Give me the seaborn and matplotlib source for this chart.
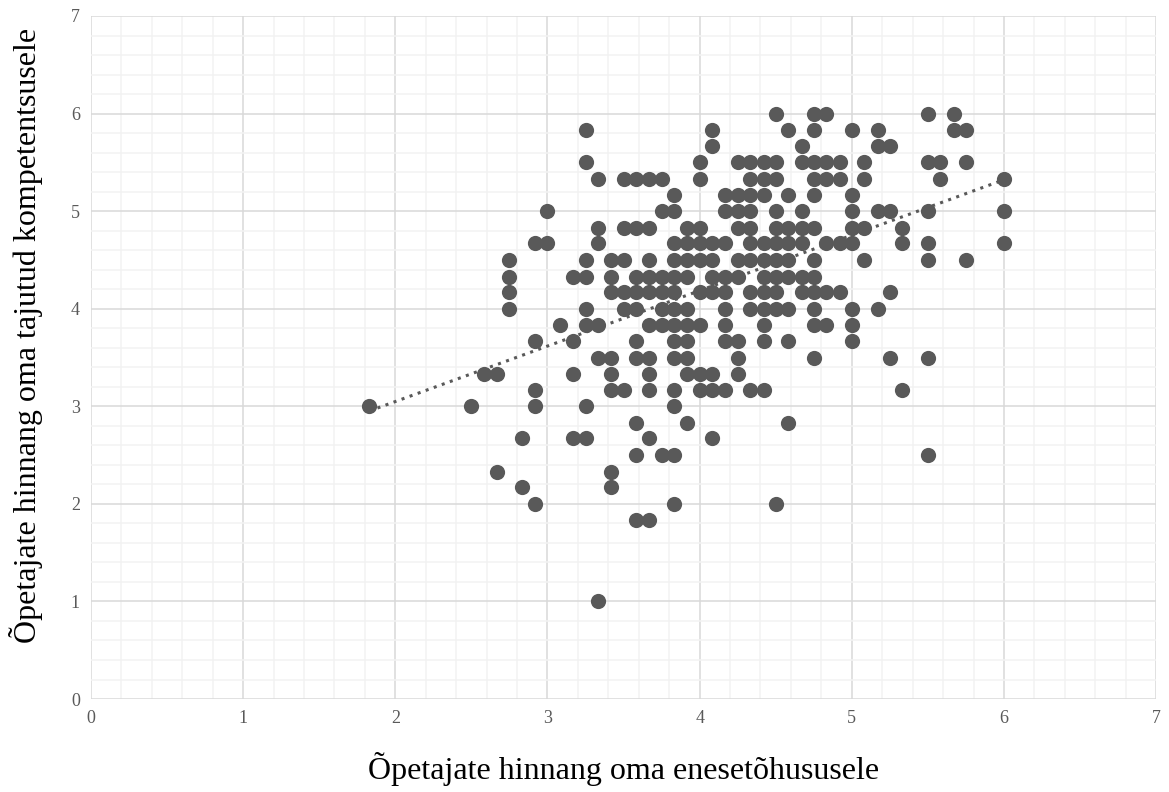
import numpy as np
import pandas as pd
import matplotlib.pyplot as plt
import seaborn as sns
from matplotlib.ticker import MultipleLocator

# competence score levels (y) and the efficacy scores (x) observed at each level
y_levels = [6.0, 5.83, 5.67, 5.5, 5.33, 5.17, 5.0, 4.83, 4.67, 4.5, 4.33, 4.17,
            4.0, 3.83, 3.67, 3.5, 3.33, 3.17, 3.0, 2.83, 2.67, 2.5, 2.33, 2.17,
            2.0, 1.83, 1.0]
x_by_level = [
    [4.5, 4.75, 4.83, 5.5, 5.67],
    [3.25, 4.08, 4.58, 4.75, 5.0, 5.17, 5.67, 5.75],
    [4.08, 4.67, 5.17, 5.25],
    [3.25, 4.0, 4.25, 4.33, 4.42, 4.5, 4.67, 4.75, 4.83, 4.92, 5.08, 5.5, 5.58, 5.75],
    [3.33, 3.5, 3.58, 3.67, 3.75, 4.0, 4.33, 4.42, 4.5, 4.75, 4.83, 4.92, 5.08, 5.58, 6.0],
    [3.83, 4.17, 4.25, 4.33, 4.42, 4.58, 4.75, 5.0],
    [3.0, 3.75, 3.83, 4.17, 4.25, 4.33, 4.5, 4.67, 5.0, 5.17, 5.25, 5.5, 6.0],
    [3.33, 3.5, 3.58, 3.67, 3.92, 4.0, 4.25, 4.33, 4.5, 4.58, 4.67, 4.75, 5.0, 5.08, 5.33],
    [2.92, 3.0, 3.33, 3.83, 3.92, 4.0, 4.08, 4.17, 4.33, 4.42, 4.5, 4.58, 4.67, 4.83, 4.92,
     5.0, 5.33, 5.5, 6.0],
    [2.75, 3.25, 3.42, 3.5, 3.67, 3.83, 3.92, 4.0, 4.08, 4.25, 4.33, 4.42, 4.5, 4.58, 4.75,
     5.08, 5.5, 5.75],
    [2.75, 3.17, 3.25, 3.42, 3.58, 3.67, 3.75, 3.83, 3.92, 4.08, 4.17, 4.25, 4.42, 4.5, 4.58,
     4.67, 4.75],
    [2.75, 3.42, 3.5, 3.58, 3.67, 3.75, 3.83, 4.0, 4.08, 4.17, 4.33, 4.42, 4.5, 4.67, 4.75,
     4.83, 4.92, 5.25],
    [2.75, 3.25, 3.5, 3.58, 3.75, 3.83, 3.92, 4.17, 4.33, 4.42, 4.5, 4.58, 4.75, 5.0, 5.17],
    [3.08, 3.25, 3.33, 3.67, 3.75, 3.83, 3.92, 4.0, 4.17, 4.42, 4.75, 4.83, 5.0],
    [2.92, 3.17, 3.58, 3.83, 3.92, 4.17, 4.25, 4.42, 4.58, 5.0],
    [3.33, 3.42, 3.58, 3.67, 3.83, 3.92, 4.25, 4.75, 5.25, 5.5],
    [2.58, 2.67, 3.17, 3.42, 3.67, 3.92, 4.0, 4.08, 4.25],
    [2.92, 3.42, 3.5, 3.67, 3.83, 4.0, 4.08, 4.17, 4.33, 4.42, 5.33],
    [1.83, 2.5, 2.92, 3.25, 3.83],
    [3.58, 3.92, 4.58],
    [2.83, 3.17, 3.25, 3.67, 4.08],
    [3.58, 3.75, 3.83, 5.5],
    [2.67, 3.42],
    [2.83, 3.42],
    [2.92, 3.83, 4.5],
    [3.58, 3.67],
    [3.33],
]

x_label = "Õpetajate hinnang oma enesetõhususele"
y_label = "Õpetajate hinnang oma tajutud kompetentsusele"

rows = []
for yv, xs in zip(y_levels, x_by_level):
    for xv in xs:
        rows.append((xv, yv))
df = pd.DataFrame(rows, columns=["efficacy", "competence"])

sns.set_style("white")
plt.rcParams["font.family"] = ["Liberation Serif", "DejaVu Serif"]

fig = plt.figure(figsize=(11.69, 7.92), dpi=100)
ax = fig.add_axes([0.0778, 0.1174, 0.9112, 0.8624])

dot = "#595959"
sns.regplot(data=df, x="efficacy", y="competence", ax=ax, ci=None,
            scatter_kws=dict(s=120, color=dot, alpha=1, linewidths=0, zorder=3),
            line_kws=dict(color=dot, linestyle=(0, (1, 1.8)), linewidth=2.2, zorder=4))

ax.set_xlim(0, 7)
ax.set_ylim(0, 7)
ax.xaxis.set_major_locator(MultipleLocator(1))
ax.yaxis.set_major_locator(MultipleLocator(1))
ax.xaxis.set_minor_locator(MultipleLocator(0.2))
ax.yaxis.set_minor_locator(MultipleLocator(0.2))
ax.grid(which="major", color="#d9d9d9", linewidth=1.1, zorder=1)
ax.grid(which="minor", color="#f2f2f2", linewidth=1.1, zorder=0)
ax.set_axisbelow(True)
for s in ax.spines.values():
    s.set_visible(False)
ax.tick_params(which="both", length=0, labelsize=13, labelcolor="#595959", pad=8)

ax.set_xlabel(x_label, fontsize=23, color="black", labelpad=18)
ax.set_ylabel(y_label, fontsize=23, color="black")
ax.yaxis.set_label_coords(-0.045, 0.533)

fig.savefig("out.png", dpi=100)
